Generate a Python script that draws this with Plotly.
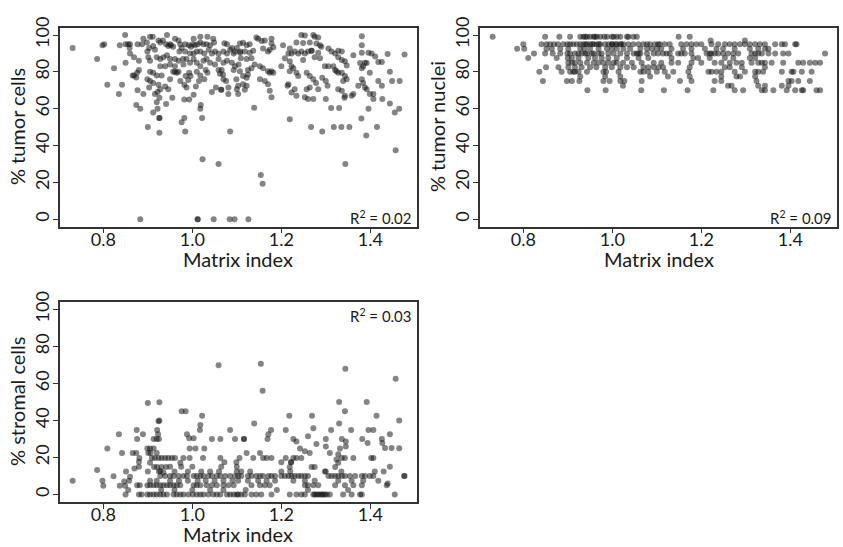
import plotly.graph_objects as go

# Matrix index vs. % tumor cells (panel A)
tumor_cells_pts = [
    (0.731, 93), (0.786, 87), (0.798, 94.5), (0.802, 95), (0.809, 73), (0.824, 82), (0.835, 68),
    (0.837, 94.5), (0.842, 73), (0.849, 100), (0.85, 95), (0.85, 85), (0.856, 95), (0.86, 95),
    (0.859, 93), (0.86, 90), (0.866, 78), (0.869, 88), (0.869, 78), (0.874, 77), (0.874, 62),
    (0.876, 79.5), (0.877, 95), (0.877, 70), (0.88, 86), (0.88, 81), (0.883, 60), (0.883, 0),
    (0.887, 95), (0.89, 98), (0.89, 68), (0.898, 96), (0.899, 91), (0.899, 76), (0.9, 50),
    (0.901, 88), (0.903, 93), (0.903, 71.5), (0.905, 99), (0.905, 86), (0.905, 80), (0.905, 75),
    (0.911, 99), (0.912, 94), (0.912, 79.5), (0.912, 74), (0.912, 58), (0.916, 92), (0.916, 68),
    (0.92, 88), (0.92, 78), (0.92, 63.5), (0.922, 69), (0.922, 60), (0.924, 97), (0.924, 73),
    (0.926, 66), (0.926, 55), (0.926, 55), (0.926, 47), (0.928, 96), (0.928, 87), (0.928, 83),
    (0.928, 70.6), (0.931, 78), (0.934, 97), (0.935, 88), (0.939, 83), (0.939, 72), (0.941, 95),
    (0.941, 62.5), (0.943, 100), (0.943, 89), (0.946, 94), (0.946, 70.6), (0.95, 95), (0.95, 87),
    (0.95, 84), (0.95, 76), (0.952, 94.5), (0.955, 66), (0.957, 93.6), (0.957, 80), (0.961, 98),
    (0.961, 87), (0.961, 83), (0.961, 80), (0.965, 79.5), (0.969, 97), (0.969, 86), (0.969, 80),
    (0.971, 91), (0.973, 95), (0.973, 75), (0.976, 93), (0.976, 52.6), (0.979, 87), (0.98, 84),
    (0.982, 73), (0.982, 65), (0.982, 55), (0.984, 95), (0.984, 91), (0.984, 47.6), (0.985, 77.7),
    (0.987, 87), (0.987, 71.5), (0.991, 75.6), (0.992, 94.5), (0.993, 79.5), (0.993, 65),
    (0.995, 90), (0.995, 85), (0.996, 77.7), (0.997, 93.6), (1.001, 95), (1.003, 98), (1.003, 90),
    (1.003, 87), (1.003, 67.6), (1.006, 94.5), (1.008, 72), (1.01, 91), (1.01, 85), (1.01, 80),
    (1.012, 95), (1.012, 0), (1.012, 0), (1.015, 75), (1.018, 99), (1.018, 96), (1.018, 91),
    (1.018, 83), (1.018, 78), (1.018, 60), (1.019, 62), (1.022, 55), (1.023, 32.6), (1.025, 95),
    (1.025, 86), (1.027, 90), (1.027, 76), (1.03, 81), (1.032, 95), (1.032, 87), (1.034, 99),
    (1.034, 79.5), (1.037, 92), (1.04, 94.5), (1.04, 85), (1.044, 90), (1.044, 69), (1.047, 98),
    (1.048, 0), (1.049, 96), (1.051, 91), (1.051, 84), (1.053, 71.5), (1.059, 90), (1.059, 87),
    (1.059, 81), (1.059, 30), (1.062, 79), (1.065, 70.3), (1.065, 70.3), (1.066, 81), (1.069, 78.6),
    (1.07, 91), (1.07, 85), (1.07, 76), (1.072, 95.5), (1.076, 75), (1.078, 90), (1.078, 86),
    (1.078, 95), (1.081, 71.5), (1.081, 68), (1.084, 0), (1.085, 92), (1.085, 47.6), (1.089, 93),
    (1.089, 85), (1.093, 90), (1.093, 81), (1.095, 0), (1.096, 91), (1.096, 83), (1.099, 76),
    (1.1, 93), (1.1, 70.6), (1.104, 84), (1.108, 91),
    (1.107, 95.4), (1.114, 95.8), (1.122, 94.5), (1.129, 95), (1.107, 90.4), (1.118, 91),
    (1.129, 90.4), (1.137, 91.5), (1.109, 87.4), (1.122, 87), (1.133, 87.4), (1.107, 80.4),
    (1.125, 81), (1.133, 82), (1.14, 84), (1.114, 77.7), (1.122, 76.8), (1.125, 78.6),
    (1.103, 72.4), (1.114, 73.3), (1.122, 72.4), (1.118, 70.3), (1.103, 68), (1.126, 0),
    (1.139, 60.5), (1.144, 98.6), (1.148, 98), (1.156, 96.8), (1.163, 97), (1.178, 98),
    (1.159, 92.7), (1.17, 91), (1.174, 92), (1.182, 93.3), (1.178, 95.4), (1.152, 83),
    (1.159, 82), (1.17, 80.4), (1.174, 79.5), (1.178, 80.4), (1.182, 79.5), (1.152, 76),
    (1.163, 75), (1.17, 73.3), (1.174, 69.7), (1.178, 66.2), (1.154, 24), (1.158, 19.3),
    (1.2, 83), (1.208, 87.4), (1.216, 90), (1.204, 94.5), (1.219, 92.7), (1.223, 90), (1.23, 91),
    (1.238, 90), (1.245, 91), (1.249, 86.5), (1.253, 90), (1.219, 85.7), (1.223, 83),
    (1.219, 80.4), (1.227, 82), (1.234, 79.5), (1.238, 77.7), (1.216, 73.3), (1.214, 72.4),
    (1.223, 68.8), (1.23, 70.6), (1.234, 67), (1.219, 54.3), (1.245, 100), (1.253, 99.8),
    (1.272, 100), (1.275, 99), (1.283, 98.6), (1.234, 96), (1.249, 95.7), (1.264, 96),
    (1.279, 95.4), (1.287, 94.5), (1.29, 93.6), (1.26, 91), (1.268, 91.5), (1.268, 91.5),
    (1.275, 88), (1.287, 87.4), (1.283, 90.4), (1.257, 79.5), (1.264, 77.7), (1.272, 76),
    (1.264, 71.5), (1.257, 70.6), (1.253, 66.2), (1.26, 65.3), (1.272, 65.3), (1.278, 74),
    (1.283, 70.6), (1.292, 76.8), (1.3, 75), (1.304, 72.4), (1.267, 50), (1.292, 47.6),
    (1.3, 65.3), (1.312, 60.4), (1.33, 60.4), (1.318, 50), (1.335, 50), (1.353, 50),
    (1.306, 92.7), (1.313, 91), (1.321, 90), (1.328, 91.5), (1.336, 91), (1.328, 88),
    (1.336, 86.5), (1.343, 85.7), (1.347, 83.5), (1.298, 83), (1.306, 83), (1.317, 83),
    (1.321, 81), (1.324, 80.4), (1.328, 79.5), (1.336, 79.5), (1.343, 77.7), (1.347, 76),
    (1.339, 75), (1.328, 70.6), (1.336, 69.7), (1.343, 67), (1.342, 66), (1.358, 67),
    (1.362, 68), (1.344, 30), (1.362, 89), (1.377, 84.8), (1.381, 82), (1.384, 83), (1.388, 85),
    (1.392, 84.8), (1.399, 79.5), (1.403, 90), (1.411, 88.3), (1.418, 85.3), (1.426, 85.3),
    (1.381, 99.3), (1.381, 94.5), (1.381, 90.4), (1.396, 90.4), (1.373, 72.4), (1.381, 76),
    (1.384, 74), (1.388, 71.5), (1.392, 70.6), (1.399, 68), (1.407, 68), (1.407, 65.3),
    (1.418, 75), (1.426, 72.4), (1.427, 65.3), (1.396, 60), (1.38, 54.7), (1.391, 45.5),
    (1.415, 50), (1.439, 89.7), (1.444, 80), (1.449, 75), (1.466, 75), (1.444, 62.8),
    (1.455, 57.9), (1.465, 60), (1.457, 37.5), (1.477, 89.4),
]

# Matrix index vs. % tumor nuclei (panel B)
tumor_nuclei_pts = [
    (0.731, 99), (0.849, 99), (0.881, 99), (0.905, 99), (0.928, 99), (0.935, 99), (0.939, 99),
    (0.943, 99), (0.95, 99), (0.958, 99), (0.961, 99), (0.965, 99), (0.973, 99), (0.982, 99),
    (0.988, 99), (0.999, 99), (1.003, 99), (1.01, 99), (1.018, 99), (1.033, 99), (1.036, 99),
    (1.047, 99), (1.055, 99), (1.149, 99), (1.174, 99), (1.221, 97), (1.298, 97),
    (0.8, 95), (0.841, 95), (0.852, 95), (0.86, 95), (0.869, 95), (0.878, 95), (0.89, 95),
    (0.899, 95), (0.905, 95), (0.912, 95), (0.92, 95), (0.928, 95), (0.935, 95), (0.94, 95),
    (0.943, 95), (0.95, 95), (0.955, 95), (0.958, 95), (0.965, 95), (0.97, 95), (0.973, 95),
    (0.984, 95), (0.992, 95), (0.999, 95), (1.0, 95), (1.007, 95), (1.01, 95), (1.018, 95),
    (1.02, 95), (1.025, 95), (1.036, 95), (1.047, 95), (1.059, 95), (1.07, 95), (1.078, 95),
    (1.085, 95), (1.096, 95), (1.103, 95), (1.107, 95), (1.118, 95), (1.129, 95), (1.155, 95),
    (1.167, 95), (1.178, 95), (1.189, 95), (1.2, 95), (1.223, 95), (1.238, 95), (1.253, 95),
    (1.264, 95), (1.275, 95), (1.287, 95), (1.298, 95), (1.309, 95), (1.321, 95), (1.332, 95),
    (1.343, 95), (1.366, 95), (1.381, 95), (1.388, 95), (1.411, 95), (1.414, 95),
    (0.786, 92.5), (0.802, 92.5), (0.852, 92.5), (0.864, 92.5), (0.883, 92.5), (0.901, 92.5),
    (0.928, 92.5), (0.937, 92.5), (0.95, 92.5), (0.969, 92.5), (0.988, 92.5), (0.999, 92.5),
    (1.01, 92.5), (1.025, 92.5), (1.04, 92.5), (1.063, 92.5), (1.078, 92.5), (1.089, 92.5),
    (1.1, 92.5), (1.11, 92.5), (1.133, 92.5), (1.159, 92.5), (1.178, 92.5), (1.208, 92.5),
    (1.234, 92.5), (1.249, 92.5), (1.275, 92.5), (1.309, 92.5), (1.328, 92.5), (1.343, 92.5),
    (1.351, 92.5),
    (0.824, 90), (0.849, 90), (0.866, 90), (0.883, 90), (0.899, 90), (0.905, 90), (0.916, 90),
    (0.924, 90), (0.931, 90), (0.939, 90), (0.943, 90), (0.954, 90), (0.958, 90), (0.969, 90),
    (0.976, 90), (0.991, 90), (1.003, 90), (1.018, 90), (1.033, 90), (1.048, 90), (1.055, 90),
    (1.059, 90), (1.063, 90), (1.078, 90), (1.093, 90), (1.103, 90), (1.114, 90), (1.122, 90),
    (1.129, 90), (1.148, 90), (1.155, 90), (1.163, 90), (1.178, 90), (1.212, 90), (1.219, 90),
    (1.223, 90), (1.23, 90), (1.238, 90), (1.249, 90), (1.26, 90), (1.272, 90), (1.283, 90),
    (1.313, 90), (1.321, 90), (1.328, 90), (1.336, 90), (1.351, 90), (1.366, 90), (1.384, 90),
    (1.396, 90), (1.478, 90),
    (0.811, 87.5), (0.875, 87.5), (0.9, 87.5), (0.909, 87.5), (0.924, 87.5), (0.946, 87.5),
    (0.961, 87.5), (0.976, 87.5), (0.991, 87.5), (1.01, 87.5), (1.033, 87.5), (1.059, 87.5),
    (1.081, 87.5), (1.133, 87.5), (1.182, 87.5), (1.193, 87.5), (1.219, 87.5), (1.253, 87.5),
    (1.272, 87.5), (1.309, 87.5), (1.321, 87.5),
    (0.901, 85), (0.909, 85), (0.916, 85), (0.928, 85), (0.943, 85), (0.958, 85), (0.969, 85),
    (0.98, 85), (0.991, 85), (1.003, 85), (1.01, 85), (1.024, 85), (1.044, 85), (1.066, 85),
    (1.093, 85), (1.11, 85), (1.133, 85), (1.148, 85), (1.178, 85), (1.2, 85), (1.23, 85),
    (1.245, 85), (1.264, 85), (1.279, 85), (1.291, 85), (1.313, 85), (1.328, 85), (1.336, 85),
    (1.343, 85), (1.358, 85), (1.384, 85), (1.418, 85), (1.429, 85), (1.444, 85), (1.456, 85),
    (1.467, 85),
    (0.851, 82.5), (0.879, 82.5), (0.901, 82.5), (0.916, 82.5), (0.931, 82.5), (0.95, 82.5),
    (0.964, 82.5), (0.984, 82.5), (0.999, 82.5), (1.018, 82.5), (1.033, 82.5), (1.048, 82.5),
    (1.07, 82.5), (1.081, 82.5), (1.093, 82.5), (1.104, 82.5), (1.114, 82.5), (1.174, 82.5),
    (1.253, 82.5), (1.264, 82.5), (1.291, 82.5), (1.343, 82.5),
    (0.836, 80), (0.886, 80), (0.905, 80), (0.912, 80), (0.916, 80), (0.924, 80), (0.943, 80),
    (0.98, 80), (0.986, 80), (1.014, 80), (1.063, 80), (1.07, 80), (1.081, 80), (1.1, 80),
    (1.118, 80), (1.137, 80), (1.171, 80), (1.216, 80), (1.223, 80), (1.234, 80), (1.245, 80),
    (1.275, 80), (1.298, 80), (1.321, 80), (1.328, 80), (1.339, 80), (1.381, 80), (1.403, 80),
    (1.407, 80), (1.426, 80), (1.448, 80),
    (0.928, 77.5), (0.984, 77.5), (1.018, 77.5), (1.085, 77.5), (1.125, 77.5), (1.174, 77.5),
    (1.245, 77.5), (1.279, 77.5), (1.287, 77.5), (1.321, 77.5),
    (0.844, 75), (0.898, 75), (0.909, 75), (0.926, 75), (0.98, 75), (0.994, 75), (1.018, 75),
    (1.027, 75), (1.066, 75), (1.152, 75), (1.178, 75), (1.23, 75), (1.245, 75), (1.324, 75),
    (1.396, 75), (1.403, 75), (1.418, 75), (1.444, 75),
    (1.024, 72.5), (1.26, 72.5), (1.268, 72.5), (1.328, 72.5), (1.343, 72.5), (1.381, 72.5),
    (1.396, 72.5),
    (0.944, 70), (0.985, 70), (1.065, 70), (1.116, 70), (1.169, 70), (1.227, 70), (1.275, 70),
    (1.294, 70), (1.336, 70), (1.343, 70), (1.362, 70), (1.392, 70), (1.411, 70), (1.426, 70),
    (1.429, 70), (1.459, 70), (1.467, 70),
]

# Matrix index vs. % stromal cells (panel C)
stromal_cells_pts = [
    (0.731, 7.4), (0.786, 13.3), (0.798, 7.4), (0.8, 4.8), (0.809, 24.8), (0.823, 9.9),
    (0.835, 32.6), (0.842, 22.5), (0.837, 4.8), (0.849, 4.8), (0.847, 7), (0.858, 7.4),
    (0.86, 9.6), (0.851, 12.4), (0.856, 2.5), (0.85, 0), (0.866, 22.5), (0.874, 22.5),
    (0.87, 14), (0.875, 34.9), (0.876, 30), (0.889, 32.6), (0.881, 19.8), (0.88, 17.7),
    (0.9, 49.4), (0.926, 49.9), (0.899, 24.8), (0.905, 24.8), (0.913, 24.8), (0.901, 22.5),
    (0.906, 22.5), (0.92, 22.5), (0.923, 32.6), (0.925, 30), (0.924, 39.6), (0.926, 40),
    (0.921, 34.9), (0.909, 19.8), (0.916, 19.8), (0.924, 19.8), (0.931, 19.8), (0.939, 19.8),
    (0.946, 19.8), (0.954, 19.8), (0.961, 19.8), (0.913, 30), (0.92, 30), (0.905, 17.2),
    (0.914, 14.9), (0.921, 14.9), (0.931, 14.9), (0.941, 14.9), (0.928, 12.7), (0.935, 11.9),
    (0.976, 45), (0.985, 45), (0.973, 17.2), (0.98, 19.8), (0.994, 19.8), (0.988, 32.6),
    (0.993, 30.4), (1.003, 30.4), (0.994, 24.8), (1.007, 24.8), (1.018, 37.5), (1.022, 42.5),
    (1.017, 34.9), (1.027, 24.8), (1.024, 19.8), (1.044, 30), (1.063, 30), (1.085, 34.9),
    (1.096, 30), (1.063, 19.8), (1.072, 17.5), (1.099, 17.5), (1.106, 19.8), (1.059, 69.9),
    (1.154, 70.6), (1.158, 56.1), (1.344, 68), (1.457, 62.5), (1.465, 40), (1.465, 25),
    (1.477, 10), (1.455, 0), (1.444, 15),
    (1.33, 50), (1.392, 50), (1.343, 45), (1.218, 42.5), (1.269, 42.5), (1.414, 42.5),
    (1.139, 38.4), (1.33, 38.4), (1.177, 34.9), (1.171, 32.6), (1.169, 30), (1.21, 34.9),
    (1.26, 31.5), (1.272, 35.8), (1.279, 27.3), (1.312, 34.9), (1.357, 34.9), (1.396, 34.9),
    (1.407, 34.9), (1.444, 32.6), (1.426, 30), (1.427, 27.8), (1.116, 30), (1.116, 30),
    (1.227, 30), (1.234, 28.7), (1.242, 24.8), (1.253, 23.4), (1.264, 22.5), (1.3, 30),
    (1.3, 26), (1.309, 22.5), (1.332, 24.8), (1.336, 30), (1.345, 28.7), (1.345, 26),
    (1.328, 21.7), (1.336, 19.8), (1.324, 18.9), (1.328, 17.2), (1.343, 19.8), (1.362, 19.8),
    (1.382, 30), (1.394, 27.8), (1.402, 19.8), (1.407, 19.8), (1.433, 25.1), (1.448, 25.1),
    (1.122, 22.5), (1.137, 19.8), (1.152, 22.5), (1.159, 19.8), (1.167, 19.8), (1.178, 19.8),
    (1.2, 17.5), (1.21, 19.8), (1.227, 19.8), (1.234, 19.8), (1.245, 19.8), (1.268, 14.9),
    (1.275, 14.9), (1.298, 12.4), (1.321, 14.9), (1.222, 17.5), (1.222, 17.5), (1.219, 14.9),
    (1.476, 10), (1.439, 6),
    (0.88, 0), (0.886, 0), (0.899, 0), (0.905, 0), (0.913, 0), (0.92, 0), (0.928, 0),
    (0.935, 0), (0.943, 0), (0.958, 0), (0.965, 0), (0.973, 0), (0.98, 0), (0.991, 0),
    (1.001, 0), (1.01, 0), (1.018, 0), (1.025, 0), (1.036, 0), (1.047, 0), (1.055, 0),
    (1.063, 0), (1.078, 0), (1.085, 0), (1.093, 0), (1.1, 0), (1.103, 0), (1.11, 0),
    (1.118, 0), (1.133, 0), (1.144, 0), (1.155, 0), (1.178, 0), (1.219, 0), (1.234, 0),
    (1.245, 0), (1.253, 0), (1.272, 0), (1.275, 0), (1.279, 0), (1.283, 0), (1.287, 0),
    (1.291, 0), (1.294, 0), (1.298, 0), (1.302, 0), (1.309, 0), (1.339, 0), (1.358, 0),
    (1.377, 0), (1.381, 0),
    (0.93, 2.5), (0.96, 2.5), (1.0, 2.5), (1.04, 2.5), (1.07, 2.5), (1.12, 2.5), (1.19, 2.5),
    (1.26, 2.5), (1.35, 2.5),
    (0.876, 5), (0.882, 5), (0.899, 5), (0.905, 5), (0.913, 5), (0.92, 5), (0.928, 5),
    (0.935, 5), (0.943, 5), (0.95, 5), (0.958, 5), (0.965, 5), (0.973, 5), (1.003, 5),
    (1.01, 5), (1.018, 5), (1.032, 5), (1.044, 5), (1.055, 5), (1.07, 5), (1.081, 5),
    (1.093, 5), (1.133, 5), (1.152, 5), (1.163, 5), (1.174, 5), (1.253, 5), (1.26, 5),
    (1.272, 5), (1.283, 5), (1.321, 5), (1.343, 5), (1.362, 5), (1.381, 5), (1.437, 5),
    (0.905, 7.5), (0.92, 7.5), (0.95, 7.5), (0.97, 7.5), (0.99, 7.5), (1.012, 7.5), (1.03, 7.5),
    (1.05, 7.5), (1.07, 7.5), (1.09, 7.5), (1.103, 7.5), (1.125, 7.5), (1.148, 7.5),
    (1.167, 7.5), (1.186, 7.5), (1.227, 7.5), (1.253, 7.5), (1.275, 7.5), (1.328, 7.5),
    (1.358, 7.5), (1.384, 7.5), (1.418, 7.5),
    (0.928, 10), (0.939, 10), (0.95, 10), (0.958, 10), (0.969, 10), (0.98, 10), (0.988, 10),
    (1.003, 10), (1.01, 10), (1.018, 10), (1.025, 10), (1.036, 10), (1.044, 10), (1.055, 10),
    (1.063, 10), (1.074, 10), (1.085, 10), (1.096, 10), (1.103, 10), (1.11, 10), (1.125, 10),
    (1.133, 10), (1.144, 10), (1.152, 10), (1.159, 10), (1.171, 10), (1.178, 10), (1.186, 10),
    (1.2, 10), (1.208, 10), (1.216, 10), (1.223, 10), (1.23, 10), (1.238, 10), (1.245, 10),
    (1.253, 10), (1.26, 10), (1.306, 10), (1.313, 10), (1.321, 10), (1.328, 10), (1.336, 10),
    (1.343, 10), (1.354, 10), (1.366, 10), (1.381, 10), (1.388, 10), (1.399, 10), (1.407, 10),
    (0.9, 12.5), (0.925, 12.5), (0.96, 12.5), (0.99, 12.5), (1.02, 12.5), (1.04, 12.5),
    (1.06, 12.5), (1.1, 12.5), (1.11, 12.5), (1.13, 12.5), (1.2, 12.5), (1.22, 12.5),
    (1.3, 12.5), (1.335, 12.5), (1.41, 12.5), (1.43, 12.5),
    (0.88, 15), (0.95, 15), (0.975, 15), (1.0, 15), (1.065, 15), (1.1, 15),
]

panel_titles_y = ["% tumor cells", "% tumor nuclei", "% stromal cells"]
x_title = "Matrix index"
r_squared = ["0.02", "0.09", "0.03"]
x_ticks = [0.8, 1.0, 1.2, 1.4]
x_tick_text = ["0.8", "1.0", "1.2", "1.4"]
y_ticks = [0, 20, 40, 60, 80, 100]

FONT = "Lato"
W, H = 843, 547
INK = "#333333"
TEXT = "#1a1a1a"

# plot-area rectangles in pixels: (left, right, top, bottom)
boxes = [(60, 417, 17, 220), (480, 837, 17, 220), (60, 417, 297, 501)]

fig = go.Figure()
series = [tumor_cells_pts, tumor_nuclei_pts, stromal_cells_pts]

for i, pts in enumerate(series):
    xs = [p[0] for p in pts]
    ys = [p[1] for p in pts]
    suffix = "" if i == 0 else str(i + 1)
    fig.add_trace(go.Scatter(
        x=xs, y=ys, mode="markers",
        xaxis="x" + suffix, yaxis="y" + suffix,
        marker=dict(size=6, color="rgba(20,20,20,0.52)", line=dict(width=0)),
        hoverinfo="skip", showlegend=False,
    ))

    left, right, top, bottom = boxes[i]
    xdom = [left / W, right / W]
    ydom = [1 - bottom / H, 1 - top / H]
    common = dict(
        showline=True, mirror=True, linecolor=INK, linewidth=1.6,
        ticks="outside", ticklen=5, tickwidth=1.4, tickcolor=INK,
        showgrid=False, zeroline=False,
        tickfont=dict(family=FONT, size=18, color=TEXT),
    )
    fig.layout["xaxis" + suffix] = dict(
        domain=xdom, range=[0.7026, 1.505], anchor="y" + suffix,
        tickvals=x_ticks, ticktext=x_tick_text, ticklabelstandoff=-9, **common,
    )
    fig.layout["yaxis" + suffix] = dict(
        domain=ydom, range=[-4, 104], anchor="x" + suffix,
        tickvals=y_ticks, tickangle=-90, ticklabelstandoff=-3, **common,
    )

    # axis titles
    fig.add_annotation(
        text=x_title, xref="paper", yref="paper",
        x=(left + right) / 2 / W, y=1 - (bottom + 33) / H,
        showarrow=False, xanchor="center", yanchor="middle",
        font=dict(family=FONT, size=20, color=TEXT),
    )
    fig.add_annotation(
        text=panel_titles_y[i], xref="paper", yref="paper",
        x=(left - 43) / W, y=1 - (top + bottom) / 2 / H, textangle=-90,
        showarrow=False, xanchor="center", yanchor="middle",
        font=dict(family=FONT, size=20, color=TEXT),
    )
    # R-squared label
    r_y = (bottom - 9) if i < 2 else (top + 14)
    fig.add_annotation(
        text="R<sup>2</sup> = " + r_squared[i], xref="paper", yref="paper",
        x=(right - 3) / W, y=1 - r_y / H,
        showarrow=False, xanchor="right", yanchor="middle",
        font=dict(family=FONT, size=15, color=TEXT),
    )

fig.update_layout(
    width=W, height=H, margin=dict(l=0, r=0, t=0, b=0),
    paper_bgcolor="white", plot_bgcolor="white",
)

fig.write_html("out.html")
